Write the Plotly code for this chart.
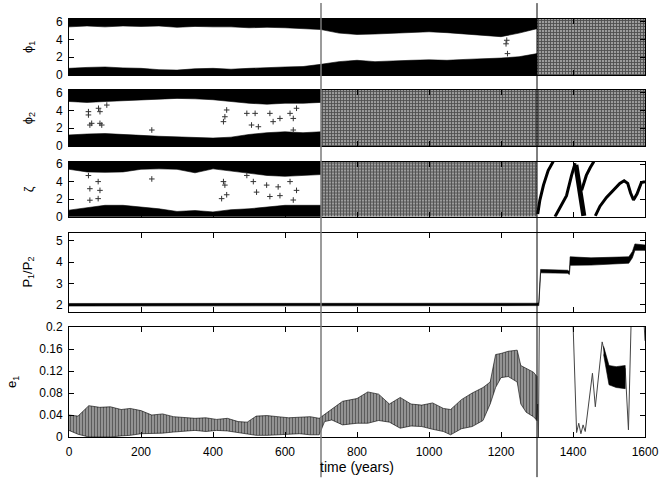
import plotly.graph_objects as go
import numpy as np

TWO_PI = 2 * np.pi

# ---- phi1: two librating bands, then full circulation after 1300
phi1_t = [0, 50, 100, 150, 200, 250, 300, 350, 400, 450, 500, 550, 600, 650, 700,
          750, 800, 850, 900, 950, 1000, 1050, 1100, 1150, 1200, 1250, 1300]
phi1_low_top = [0.75, 0.85, 0.9, 0.8, 0.75, 0.6, 0.55, 0.7, 0.75, 0.65, 0.75, 0.85, 0.9, 0.95, 1.2,
                1.5, 1.65, 1.5, 1.55, 1.65, 1.7, 1.65, 1.75, 1.85, 1.9, 2.05, 2.4]
phi1_up_bottom = [5.4, 5.5, 5.4, 5.5, 5.45, 5.5, 5.35, 5.45, 5.4, 5.4, 5.3, 5.35, 5.3, 5.2, 5.1,
                  4.7, 4.55, 4.6, 4.7, 4.8, 4.85, 4.75, 4.6, 4.4, 4.3, 4.7, 5.2]
phi1_stray_t = [1214, 1216, 1218]
phi1_stray_v = [3.5, 3.9, 2.4]
phi1_chaos = [1300, 1600]

# ---- phi2
phi2_t = [0, 50, 100, 150, 200, 250, 300, 350, 400, 450, 500, 550, 600, 650, 700]
phi2_low_top = [1.25, 1.35, 1.4, 1.3, 1.2, 1.1, 1.0, 0.95, 0.9, 1.0, 1.3, 1.5, 1.6, 1.5, 1.6]
phi2_up_bottom = [5.0, 4.9, 5.0, 5.1, 5.2, 5.3, 5.35, 5.3, 5.2, 5.0, 4.8, 4.7, 4.8, 4.8, 4.9]
phi2_stray_t = [54, 54, 82, 86, 58, 63, 86, 91, 105, 230, 429, 433, 438, 494, 517, 558,
                586, 614, 623, 632, 507, 526, 567, 623]
phi2_stray_v = [3.86, 3.49, 4.24, 3.86, 2.36, 2.55, 2.55, 2.36, 4.6, 1.8, 2.74, 3.29, 4.05,
                3.67, 3.67, 3.67, 3.1, 3.67, 3.1, 4.24, 2.36, 2.17, 2.74, 1.8]
phi2_chaos = [700, 1600]

# ---- zeta
zeta_t = [0, 50, 100, 150, 200, 250, 300, 350, 400, 450, 500, 550, 600, 650, 700]
zeta_low_top = [0.75, 1.0, 1.3, 1.3, 1.1, 0.9, 0.6, 0.7, 0.55, 0.8, 0.9, 1.1, 1.3, 1.3, 1.3]
zeta_up_bottom = [5.4, 5.1, 5.05, 5.1, 5.4, 5.45, 5.4, 5.0, 5.45, 5.2, 4.9, 4.7, 4.6, 4.7, 4.8]
zeta_stray_t = [54, 58, 81, 86, 58, 81, 230, 429, 433, 438, 424, 494, 512, 549, 581, 632,
                614, 521, 558, 623, 586]
zeta_stray_v = [4.69, 3.19, 4.0, 3.0, 1.88, 2.06, 4.3, 4.0, 3.6, 2.5, 2.06, 4.7, 4.0, 3.6,
                3.4, 3.0, 4.0, 2.8, 2.3, 1.9, 2.4]
zeta_chaos = [700, 1300]
zeta_a_t = [1302, 1308, 1318, 1331, 1345]
zeta_a_v = [0.3, 1.9, 3.6, 5.25, 6.28]
zeta_b_t = [1350, 1366, 1382, 1396, 1406]
zeta_b_v = [0.0, 1.2, 2.4, 4.7, 6.1]
zeta_c_t = [1408, 1413, 1418, 1424, 1430]
zeta_c_v = [5.9, 4.5, 3.0, 1.2, 0.1]
zeta_d_t = [1424, 1437, 1448, 1458]
zeta_d_v = [3.0, 4.7, 5.6, 6.28]
zeta_e_t = [1462, 1475, 1493, 1512, 1530, 1542, 1552, 1560, 1568, 1578, 1590, 1600]
zeta_e_v = [0.1, 1.2, 2.2, 3.0, 3.8, 4.1, 3.8, 2.7, 1.9, 2.6, 3.9, 4.0]

# ---- period ratio P1/P2
ratio_t = [0, 300, 600, 900, 1200, 1300, 1305, 1310, 1385, 1390, 1392, 1450, 1555, 1565, 1572, 1600]
ratio_hi = [2.07, 2.08, 2.09, 2.08, 2.08, 2.08, 2.1, 3.66, 3.62, 3.56, 4.25, 4.2, 4.25, 4.5, 4.85, 4.8]
ratio_lo = [1.95, 1.95, 1.96, 1.95, 1.95, 1.95, 1.97, 3.5, 3.48, 3.42, 3.85, 3.86, 3.95, 4.2, 4.55, 4.55]

# ---- eccentricity e1
e1_t = [0, 25, 55, 85, 115, 145, 170, 200, 230, 260, 290, 320, 350, 380, 410, 440, 470, 495,
        520, 550, 580, 610, 640, 670, 695, 710, 730, 760, 800, 830, 860, 890, 920, 950, 980,
        1010, 1040, 1060, 1090, 1120, 1150, 1170, 1185, 1200, 1220, 1245, 1255, 1270, 1290, 1300]
e1_hi = [.040, .038, .057, .054, .055, .050, .052, .048, .040, .042, .037, .036, .034, .035,
         .032, .034, .028, .027, .038, .039, .037, .035, .036, .037, .034, .040, .050, .065,
         .070, .082, .078, .060, .072, .060, .058, .062, .052, .050, .068, .080, .090, .100,
         .150, .152, .156, .158, .130, .125, .118, .110]
e1_lo = [.012, .005, .000, .000, .000, .002, .003, .006, .006, .007, .009, .010, .012, .010,
         .012, .011, .008, .006, .003, .003, .004, .005, .006, .004, .004, .028, .031, .022,
         .025, .025, .030, .027, .016, .020, .019, .014, .010, .004, .015, .019, .030, .060,
         .090, .108, .110, .100, .060, .045, .037, .030]
e1_late_t = [1298, 1302, 1304, 1307, 1398, 1410, 1416, 1422, 1428, 1434, 1454, 1462, 1481,
             1498, 1545, 1554, 1563, 1594, 1600]
e1_late_v = [0.03, 0.06, 0.0, 0.25, 0.25, 0.008, 0.025, 0.006, 0.022, 0.01, 0.116, 0.055,
             0.173, 0.125, 0.125, 0.013, 0.25, 0.25, 0.175]
e1_blob_t = [1485, 1500, 1520, 1545]
e1_blob_hi = [0.165, 0.130, 0.128, 0.130]
e1_blob_lo = [0.150, 0.095, 0.090, 0.088]

# panel domains (paper fractions) and y ranges
DOMAINS = [[0.866, 1.0], [0.696, 0.830], [0.527, 0.659], [0.300, 0.487], [0.0, 0.263]]
TITLES = ['ϕ<sub>1</sub>', 'ϕ<sub>2</sub>', 'ζ', 'P<sub>1</sub>/P<sub>2</sub>', 'e<sub>1</sub>']
TITLE_X = [-0.071, -0.071, -0.071, -0.071, -0.099]

FONT = 'Liberation Sans, Arial, sans-serif'
CHAOS = dict(shape='+', fgcolor='black', bgcolor='#9c9c9c', size=3, solidity=0.5)
STRIPES = dict(shape='|', fgcolor='black', bgcolor='#b8b8b8', size=3, solidity=0.6)

fig = go.Figure()


def band(t, lo, hi, axis, color='black', pattern=None, line=0.6):
    x = list(t) + list(t)[::-1]
    y = list(lo) + list(hi)[::-1]
    tr = go.Scatter(x=x, y=y, fill='toself', mode='lines',
                    line=dict(color=color, width=line), fillcolor=color,
                    xaxis='x' + axis, yaxis='y' + axis, hoverinfo='skip')
    if pattern:
        tr.fillpattern = pattern
    fig.add_trace(tr)


def curve(t, v, axis, width=1, color='black'):
    fig.add_trace(go.Scatter(x=t, y=v, mode='lines', line=dict(color=color, width=width),
                             xaxis='x' + axis, yaxis='y' + axis, hoverinfo='skip'))


def plus(t, v, axis):
    fig.add_trace(go.Scatter(x=t, y=v, mode='markers',
                             marker=dict(symbol='cross-thin', size=4, line=dict(width=1, color='#333')),
                             xaxis='x' + axis, yaxis='y' + axis, hoverinfo='skip'))


# phi1
band(phi1_t, [0] * len(phi1_t), phi1_low_top, '')
band(phi1_t, phi1_up_bottom, [TWO_PI] * len(phi1_t), '')
plus(phi1_stray_t, phi1_stray_v, '')
band(phi1_chaos, [0, 0], [TWO_PI, TWO_PI], '', pattern=CHAOS, line=0)

# phi2
band(phi2_t, [0] * len(phi2_t), phi2_low_top, '2')
band(phi2_t, phi2_up_bottom, [TWO_PI] * len(phi2_t), '2')
plus(phi2_stray_t, phi2_stray_v, '2')
band(phi2_chaos, [0, 0], [TWO_PI, TWO_PI], '2', pattern=CHAOS, line=0)

# zeta
band(zeta_t, [0] * len(zeta_t), zeta_low_top, '3')
band(zeta_t, zeta_up_bottom, [TWO_PI] * len(zeta_t), '3')
plus(zeta_stray_t, zeta_stray_v, '3')
band(zeta_chaos, [0, 0], [TWO_PI, TWO_PI], '3', pattern=CHAOS, line=0)
curve(zeta_a_t, zeta_a_v, '3', 3)
curve(zeta_b_t, zeta_b_v, '3', 3)
curve(zeta_c_t, zeta_c_v, '3', 5)
curve(zeta_d_t, zeta_d_v, '3', 3)
curve(zeta_e_t, zeta_e_v, '3', 3)

# period ratio
band(ratio_t, ratio_lo, ratio_hi, '4')

# e1
band(e1_t, e1_lo, e1_hi, '5', pattern=STRIPES, line=0.6)
curve(e1_late_t, e1_late_v, '5', 1, '#444')
band(e1_blob_t, e1_blob_lo, e1_blob_hi, '5')

yranges = [[0, TWO_PI], [0, TWO_PI], [0, TWO_PI], [1.69, 5.34], [0, 0.2]]
ytickvals = [[0, 2, 4, 6], [0, 2, 4, 6], [0, 2, 4, 6], [2, 3, 4, 5],
             [0, 0.04, 0.08, 0.12, 0.16, 0.2]]
yticktext = [None, None, None, None, ['0', '0.04', '0.08', '0.12', '0.16', '0.2']]

layout = dict(
    width=664, height=482,
    paper_bgcolor='white', plot_bgcolor='white',
    margin=dict(l=69, r=19, t=19, b=45),
    showlegend=False,
    font=dict(family=FONT, size=12, color='black'),
)

for i in range(5):
    suffix = '' if i == 0 else str(i + 1)
    bottom = i == 4
    layout['xaxis' + suffix] = dict(
        range=[0, 1600], domain=[0, 1], anchor='y' + suffix, automargin=False,
        showgrid=False, zeroline=False, showline=True, linecolor='black', linewidth=1,
        mirror='ticks', ticks='inside', ticklen=5, tickcolor='black',
        tickvals=[0, 200, 400, 600, 800, 1000, 1200, 1400, 1600],
        showticklabels=bottom, ticklabelstandoff=4,
        title=dict(text='time (years)', standoff=2) if bottom else None,
    )
    if i < 4:
        layout['xaxis' + suffix]['matches'] = 'x5'
    layout['yaxis' + suffix] = dict(
        range=yranges[i], domain=DOMAINS[i], anchor='x' + suffix, automargin=False,
        showgrid=False, zeroline=False, showline=True, linecolor='black', linewidth=1,
        mirror='ticks', ticks='inside', ticklen=5, tickcolor='black',
        tickvals=ytickvals[i], ticktext=yticktext[i], ticklabelstandoff=3,
    )

fig.update_layout(**layout)

for i in range(5):
    mid = sum(DOMAINS[i]) / 2
    fig.add_annotation(text=TITLES[i], x=TITLE_X[i], y=mid, xref='paper', yref='paper',
                       textangle=-90, showarrow=False, font=dict(size=13),
                       xanchor='center', yanchor='middle')

# section markers at 700 and 1300 years
fig.add_shape(type='line', x0=700, x1=700, y0=-0.096, y1=1.038, xref='x5', yref='paper',
              line=dict(color='#7a7a7a', width=1.5))
fig.add_shape(type='line', x0=1300, x1=1300, y0=-0.096, y1=1.038, xref='x5', yref='paper',
              line=dict(color='black', width=1))

# the page's default body margin would shift the figure, so drop it
fig.write_html("out.html", config={'displayModeBar': False},
               post_script="document.body.style.margin='0';")
